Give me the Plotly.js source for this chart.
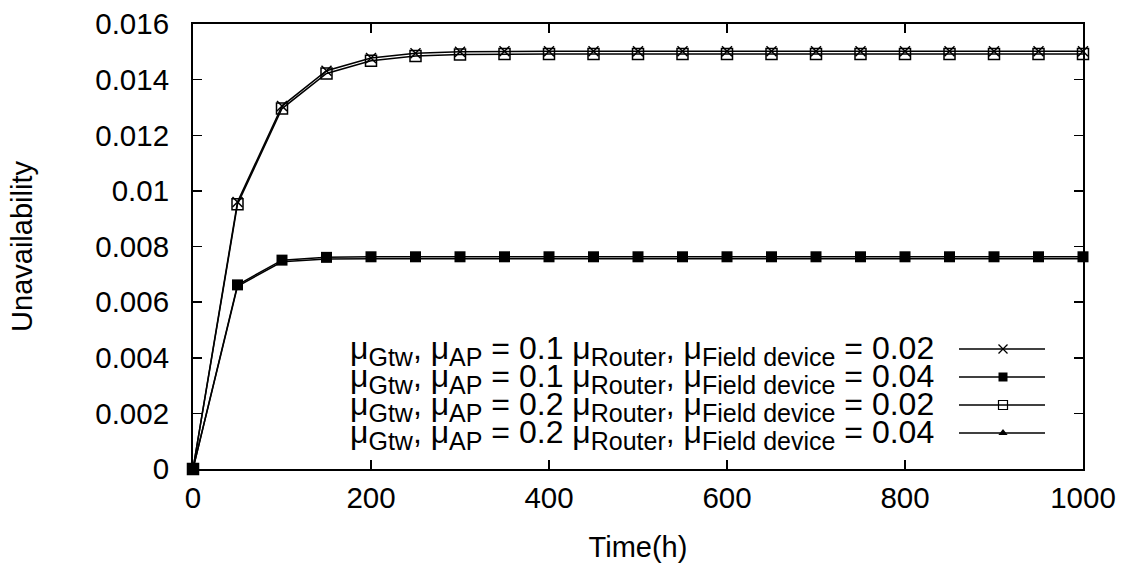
<!DOCTYPE html>
<html>
<head>
<meta charset="utf-8">
<script src="https://cdn.plot.ly/plotly-3.0.1.min.js"></script>
<style>html,body{margin:0;padding:0;background:#fff;}#chart{width:1129px;height:565px;}</style>
</head>
<body>
<div id="chart"></div>
<script>
const time = [0,50,100,150,200,250,300,350,400,450,500,550,600,650,700,750,800,850,900,950,1000];
const s1 = [0,0.00960,0.01305,0.01432,0.01478,0.01495,0.01500,0.01502,0.01502,0.01502,0.01502,0.01502,0.01502,0.01502,0.01502,0.01502,0.01502,0.01502,0.01502,0.01502,0.01502];
const s2 = [0,0.00662,0.00751,0.00761,0.00763,0.00763,0.00763,0.00763,0.00763,0.00763,0.00763,0.00763,0.00763,0.00763,0.00763,0.00763,0.00763,0.00763,0.00763,0.00763,0.00763];
const s3 = [0,0.00952,0.01296,0.01422,0.01468,0.01485,0.01490,0.01492,0.01492,0.01492,0.01492,0.01492,0.01492,0.01492,0.01492,0.01492,0.01492,0.01492,0.01492,0.01492,0.01492];
const s4 = [0,0.00657,0.00745,0.00755,0.00756,0.00756,0.00756,0.00756,0.00756,0.00756,0.00756,0.00756,0.00756,0.00756,0.00756,0.00756,0.00756,0.00756,0.00756,0.00756,0.00756];
const gtwAp = ["0.1", "0.1", "0.2", "0.2"];
const routerField = ["0.02", "0.04", "0.02", "0.04"];
const yTickVals = [0,0.002,0.004,0.006,0.008,0.01,0.012,0.014,0.016];
const yTickText = ["0","0.002","0.004","0.006","0.008","0.01","0.012","0.014","0.016"];
const xTickVals = [0,200,400,600,800,1000];
const xTickText = ["0","200","400","600","800","1000"];

const SUB = 25;
const sub = t => '<sub><span style="font-size:' + SUB + 'px">' + t + '</span></sub>';
const seriesNames = gtwAp.map((a, i) =>
  'μ' + sub('Gtw') + ', μ' + sub('AP') + ' = ' + a + ' μ' + sub('Router') + ', μ' + sub('Field device') + ' = ' + routerField[i]);

const L = 193, R = 1083, T = 24, B = 469;
const px = v => (v - L) / (R - L);
const py = v => (B - v) / (B - T);

const markers = [
  {symbol:'x-thin-open', size:10, color:'#000', line:{width:1.5,color:'#000'}},
  {symbol:'square', size:11, color:'#000', line:{width:0,color:'#000'}},
  {symbol:'square-open', size:11, color:'#000', line:{width:1.5,color:'#000'}},
  {symbol:'triangle-up', size:9, color:'#000', line:{width:0,color:'#000'}}
];
const legMarkers = [
  {symbol:'x-thin-open', size:9, color:'#000', line:{width:1.3,color:'#000'}},
  {symbol:'square', size:9, color:'#000', line:{width:0,color:'#000'}},
  {symbol:'square-open', size:9, color:'#000', line:{width:1.2,color:'#000'}},
  {symbol:'triangle-up', size:8, color:'#000', line:{width:0,color:'#000'}}
];
const allSeries = [s1, s2, s3, s4];
const traces = [];
[3,2,1,0].forEach(i => {
  traces.push({x: time, y: allSeries[i], type:'scatter', mode:'lines+markers',
    line:{color:'#000', width:1.5}, marker: markers[i], showlegend:false, hoverinfo:'skip', cliponaxis:false});
});
const rowsY = [349, 377, 405, 433];
const annotations = [];
rowsY.forEach((ry, i) => {
  traces.push({x:[px(959), px(1045)], y:[py(ry), py(ry)], xaxis:'x2', yaxis:'y2', type:'scatter', mode:'lines',
    line:{color:'#000', width:1.5}, showlegend:false, hoverinfo:'skip'});
  traces.push({x:[px(1003)], y:[py(ry)], xaxis:'x2', yaxis:'y2', type:'scatter', mode:'markers',
    marker: legMarkers[i], showlegend:false, hoverinfo:'skip'});
  annotations.push({xref:'paper', yref:'paper', x: px(936), y: py(ry + 1), xanchor:'right', yanchor:'middle',
    text: seriesNames[i], showarrow:false, align:'right',
    font:{family:'Liberation Sans, Arial, sans-serif', size:32, color:'#000'}});
});

const axFont = {family:'Liberation Sans, Arial, sans-serif', size:29.5, color:'#000'};
const layout = {
  width:1129, height:565,
  margin:{l:L, r:1129-R, t:T, b:565-B, pad:0},
  paper_bgcolor:'#fff', plot_bgcolor:'#fff',
  showlegend:false,
  font: axFont,
  xaxis:{range:[0,1000], tickvals:xTickVals, ticktext:xTickText, ticks:'inside', ticklen:9, tickwidth:1.5, tickcolor:'#000',
    showline:true, linecolor:'#000', linewidth:2, mirror:'ticks', showgrid:false, zeroline:false,
    tickfont:axFont, ticklabelstandoff:2,
    title:{text:'Time(h)', font:{family:'Liberation Sans, Arial, sans-serif', size:29, color:'#000'}, standoff:23}},
  yaxis:{range:[0,0.016], tickvals:yTickVals, ticktext:yTickText, ticks:'inside', ticklen:9, tickwidth:1.5, tickcolor:'#000',
    showline:true, linecolor:'#000', linewidth:2, mirror:'ticks', showgrid:false, zeroline:false,
    tickfont:axFont, ticklabelstandoff:16,
    title:{text:'Unavailability', font:{family:'Liberation Sans, Arial, sans-serif', size:29, color:'#000'}, standoff:54}},
  xaxis2:{overlaying:'x', range:[0,1], visible:false, fixedrange:true},
  yaxis2:{overlaying:'y', range:[0,1], visible:false, fixedrange:true},
  annotations: annotations
};
Plotly.newPlot('chart', traces, layout, {displayModeBar:false, staticPlot:true});
</script>
</body>
</html>
